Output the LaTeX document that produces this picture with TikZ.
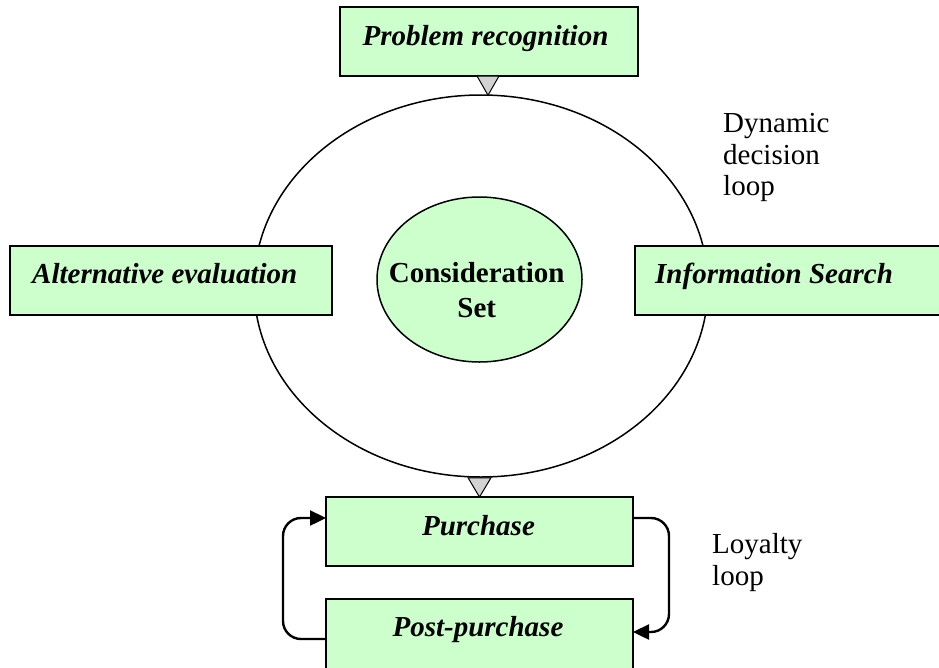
\documentclass[tikz,border=0pt]{standalone}
\usepackage{fontspec}
\setmainfont{Liberation Serif}
\usetikzlibrary{shapes.geometric,arrows.meta,calc}
\definecolor{boxgreen}{RGB}{204,255,204}
\definecolor{trigray}{RGB}{210,210,210}
\begin{document}
\begin{tikzpicture}[x=1pt,y=-1pt,
  box/.style={draw=black,line width=1.6pt,fill=boxgreen,minimum width=#1,minimum height=69pt,inner sep=0pt,outer sep=0pt},
  lbl/.style={font=\fontsize{29}{32}\selectfont\bfseries\itshape,anchor=base,inner sep=0pt},
  bold/.style={font=\fontsize{29}{32}\selectfont\bfseries,anchor=base,inner sep=0pt},
  plain/.style={font=\fontsize{29}{32}\selectfont,anchor=base west,inner sep=0pt},
  tri/.style={fill=trigray,draw=black,line width=1pt,line join=miter},
  loopar/.style={line width=2.4pt,-{Triangle[length=16pt,width=15pt]},rounded corners=18pt}]
\clip (0,0) rectangle (939,667);
\fill[white] (0,0) rectangle (939,667);
% dynamic decision loop
\node[draw,ellipse,line width=1.5pt,minimum width=454pt,minimum height=382pt,inner sep=0pt] (dloop) at (481,286) {};
% boxes
\node[box=298pt] (prob) at (489,41.5) {};
\node[lbl] (probt) at (485.5,45) {Problem recognition};
\node[box=322pt] (alt) at (171,280.5) {};
\node[lbl,anchor=base west] (altt) at (32,283) {Alternative evaluation};
\node[box=310pt] (info) at (790,280.5) {};
\node[lbl,anchor=base west] (infot) at (655,283) {Information Search};
\node[draw,ellipse,fill=boxgreen,line width=1.5pt,minimum width=205pt,minimum height=165pt,inner sep=0pt] (cs) at (479.5,279.5) {};
\node[bold] (csa) at (476.7,282) {Consideration};
\node[bold] (csb) at (476.7,317) {Set};
\node[box=307pt] (pur) at (479.5,531.5) {};
\node[lbl] (purt) at (478.5,535) {Purchase};
\node[box=307pt,minimum height=76pt] (post) at (479.5,637) {};
\node[lbl] (postt) at (478,636) {Post-purchase};
% triangles
\path[tri] ($(prob.south)+(-12,0)$) -- ($(prob.south)+(10,0)$) -- ($(dloop.north)+(7,1)$) -- cycle;
\path[tri] ($(dloop.south)+(-13,0)$) -- ($(dloop.south)+(10,0)$) -- (pur.north) -- cycle;
% loyalty loop arrows
\coordinate (lc) at (283,518);
\coordinate (rc) at (669,632);
\draw[loopar] ($(post.west)+(0,2)$) -| (lc) -- ($(pur.west)+(0,-13.5)$);
\draw[loopar] ($(pur.east)+(0,-13.5)$) -| (rc) -- ($(post.east)+(0,-5)$);
% side labels
\node[plain] (d1) at (723,132) {Dynamic};
\node[plain] (d2) at (723,164) {decision};
\node[plain] (d3) at (723,195) {loop};
\node[plain] (l1) at (712,553) {Loyalty};
\node[plain] (l2) at (712,585) {loop};
\end{tikzpicture}
\end{document}
